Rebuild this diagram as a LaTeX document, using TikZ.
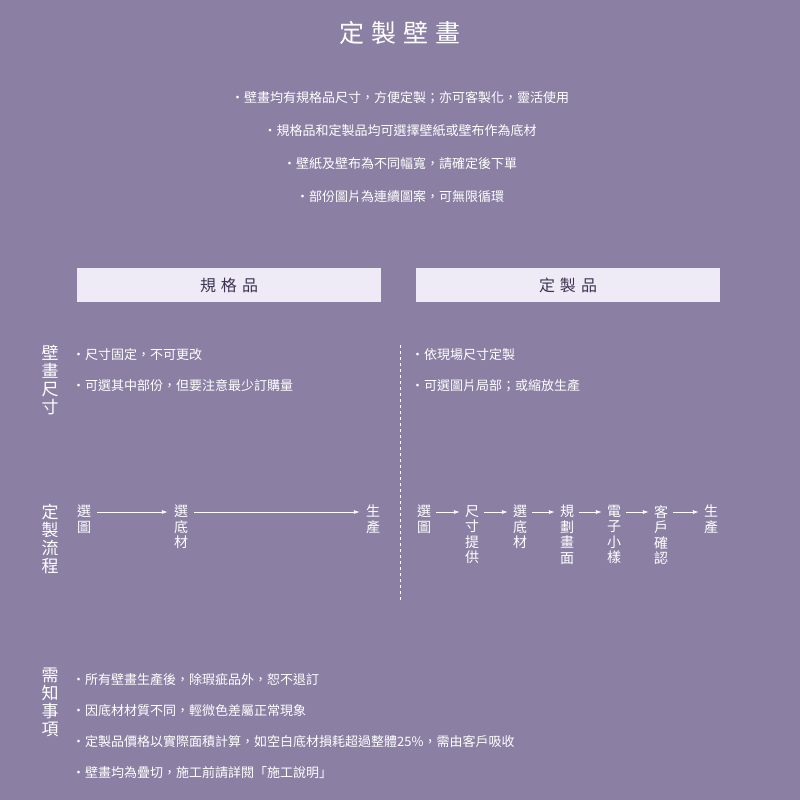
\documentclass[tikz,border=0pt]{standalone}
\usepackage{fontspec}
\setmainfont{Noto Sans CJK TC}
\usetikzlibrary{arrows.meta,calc}
\definecolor{bg}{HTML}{8B80A3}
\definecolor{boxc}{HTML}{EEEAF6}
\definecolor{boxt}{HTML}{3C3452}
\tikzset{
 txt/.style={text=white,font=\fontsize{13}{15}\selectfont,inner sep=0pt},
 line/.style={txt,anchor=center},
 item/.style={txt,anchor=west},
 vlab/.style={text=white,font=\fontsize{17}{18}\selectfont,inner sep=0pt,anchor=north,align=center,text width=17pt},
 vflow/.style={text=white,font=\fontsize{14}{15.5}\selectfont,inner sep=0pt,anchor=north,align=center,text width=14pt},
 hbox/.style={fill=boxc,minimum width=304pt,minimum height=34pt,inner sep=0pt,text=boxt,font=\fontsize{16}{18}\selectfont},
 arr/.style={draw=white,line width=0.8pt,-{Latex[length=6pt,width=4pt]}},
}
\begin{document}
\begin{tikzpicture}[x=1pt,y=-1pt]
\fill[bg] (0,0) rectangle (800,800);
\useasboundingbox (0,0) rectangle (800,800);
\node[text=white,font=\fontsize{25}{28}\selectfont,inner sep=0pt] (title) at (400,33) {定\hspace{7pt}製\hspace{7pt}壁\hspace{7pt}畫};
\node[line] (l1) at (400,98) {・壁畫均有規格品尺寸，方便定製；亦可客製化，靈活使用};
\node[line] (l2) at (400,131) {・規格品和定製品均可選擇壁紙或壁布作為底材};
\node[line] (l3) at (400,164) {・壁紙及壁布為不同幅寬，請確定後下單};
\node[line] (l4) at (400,197) {・部份圖片為連續圖案，可無限循環};
\node[hbox] (b1) at (229,285) {規\hspace{5pt}格\hspace{5pt}品};
\node[hbox] (b2) at (568,285) {定\hspace{5pt}製\hspace{5pt}品};
\draw[white,dashed,line width=0.6pt] (400,345) -- (400,600);
\node[vlab] (v1) at (50,345) {壁\\畫\\尺\\寸};
\node[vlab] (v2) at (50,504) {定\\製\\流\\程};
\node[vlab] (v3) at (50,668) {需\\知\\事\\項};
\node[item] (a1) at (72,355) {・尺寸固定，不可更改};
\node[item] (a2) at (72,386) {・可選其中部份，但要注意最少訂購量};
\node[item] (c1) at (411,355) {・依現場尺寸定製};
\node[item] (c2) at (411,386) {・可選圖片局部；或縮放生產};
% left flow
\node[vflow] (p1) at (84,505) {選\\圖};
\node[vflow] (p2) at (181,505) {選\\底\\材};
\node[vflow] (p3) at (373,505) {生\\產};
\draw[arr] ($(p1.north east)+(6,7)$) -- ($(p2.north west)+(-6,7)$);
\draw[arr] ($(p2.north east)+(6,7)$) -- ($(p3.north west)+(-6,7)$);
% right flow
\node[vflow] (q1) at (424,505) {選\\圖};
\node[vflow] (q2) at (472,505) {尺\\寸\\提\\供};
\node[vflow] (q3) at (520,505) {選\\底\\材};
\node[vflow] (q4) at (567,505) {規\\劃\\畫\\面};
\node[vflow] (q5) at (614,505) {電\\子\\小\\樣};
\node[vflow] (q6) at (661,505) {客\\戶\\確\\認};
\node[vflow] (q7) at (711,505) {生\\產};
\foreach \a/\b in {q1/q2,q2/q3,q3/q4,q4/q5,q5/q6,q6/q7}
  \draw[arr] ($(\a.north east)+(5,7)$) -- ($(\b.north west)+(-5,7)$);
\node[item] (n1) at (72,680) {・所有壁畫生產後，除瑕疵品外，恕不退訂};
\node[item] (n2) at (72,711) {・因底材材質不同，輕微色差屬正常現象};
\node[item] (n3) at (72,742) {・定製品價格以實際面積計算，如空白底材損耗超過整體25\%，需由客戶吸收};
\node[item] (n4) at (72,773) {・壁畫均為疊切，施工前請詳閱「施工說明」};
\end{tikzpicture}
\end{document}
